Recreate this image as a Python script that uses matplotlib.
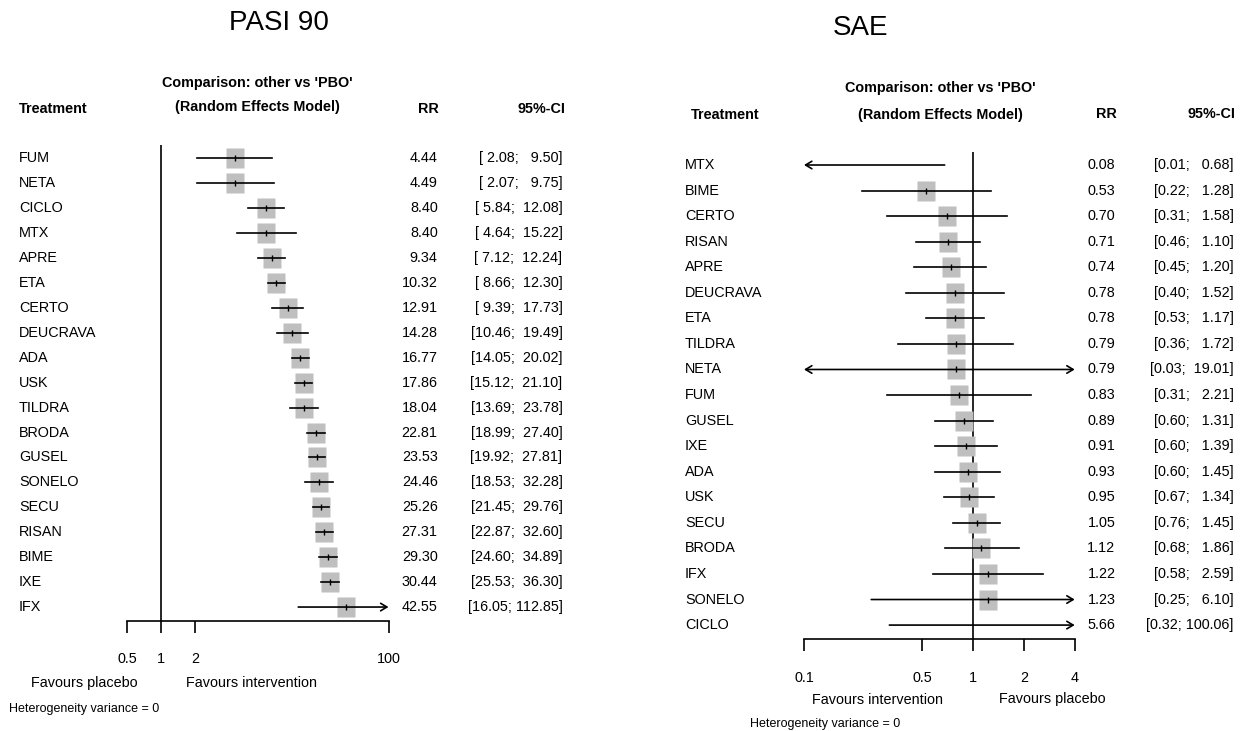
import matplotlib
matplotlib.use("Agg")
import matplotlib.pyplot as plt
import matplotlib.transforms as mtransforms
from matplotlib.ticker import NullLocator

plt.rcParams['font.family'] = ['Liberation Sans', 'DejaVu Sans']

W, H = 1245, 731

# PASI 90, RR vs placebo
pasi_trt = ['FUM', 'NETA', 'CICLO', 'MTX', 'APRE', 'ETA', 'CERTO', 'DEUCRAVA', 'ADA', 'USK',
            'TILDRA', 'BRODA', 'GUSEL', 'SONELO', 'SECU', 'RISAN', 'BIME', 'IXE', 'IFX']
pasi_rr = [4.44, 4.49, 8.40, 8.40, 9.34, 10.32, 12.91, 14.28, 16.77, 17.86,
           18.04, 22.81, 23.53, 24.46, 25.26, 27.31, 29.30, 30.44, 42.55]
pasi_lo = [2.08, 2.07, 5.84, 4.64, 7.12, 8.66, 9.39, 10.46, 14.05, 15.12,
           13.69, 18.99, 19.92, 18.53, 21.45, 22.87, 24.60, 25.53, 16.05]
pasi_hi = [9.50, 9.75, 12.08, 15.22, 12.24, 12.30, 17.73, 19.49, 20.02, 21.10,
           23.78, 27.40, 27.81, 32.28, 29.76, 32.60, 34.89, 36.30, 112.85]
pasi_ticks = [0.5, 1, 2, 100]

# SAE, RR vs placebo
sae_trt = ['MTX', 'BIME', 'CERTO', 'RISAN', 'APRE', 'DEUCRAVA', 'ETA', 'TILDRA', 'NETA', 'FUM',
           'GUSEL', 'IXE', 'ADA', 'USK', 'SECU', 'BRODA', 'IFX', 'SONELO', 'CICLO']
sae_rr = [0.08, 0.53, 0.70, 0.71, 0.74, 0.78, 0.78, 0.79, 0.79, 0.83,
          0.89, 0.91, 0.93, 0.95, 1.05, 1.12, 1.22, 1.23, 5.66]
sae_lo = [0.01, 0.22, 0.31, 0.46, 0.45, 0.40, 0.53, 0.36, 0.03, 0.31,
          0.60, 0.60, 0.60, 0.67, 0.76, 0.68, 0.58, 0.25, 0.32]
sae_hi = [0.68, 1.28, 1.58, 1.10, 1.20, 1.52, 1.17, 1.72, 19.01, 2.21,
          1.31, 1.39, 1.45, 1.34, 1.45, 1.86, 2.59, 6.10, 100.06]
sae_ticks = [0.1, 0.5, 1, 2, 4]

FS = 10.4
LW = 1.2
SQ = [(-0.45, -0.5), (0.45, -0.5), (0.45, 0.5), (-0.45, 0.5), (-0.45, -0.5)]


def fx(px):
    return px / W


def fy(py):
    return 1 - py / H


fig = plt.figure(figsize=(W / 100, H / 100), dpi=100)


def forest(lay, trt, rr, lo, hi, ticks, ci_fmt, title, fav_left, fav_right):
    xmin, xmax = ticks[0], ticks[-1]
    n = len(trt)
    ax = fig.add_axes([fx(lay['x0']), fy(lay['base']),
                       (lay['x1'] - lay['x0']) / W, (lay['base'] - lay['top']) / H])
    ax.set_xscale('log')
    ax.set_xlim(xmin, xmax)
    bottom = n - 1 + (lay['base'] - (lay['row0'] + (n - 1) * lay['step'])) / lay['step']
    top = -(lay['row0'] - lay['top']) / lay['step']
    ax.set_ylim(bottom, top)
    ax.patch.set_alpha(0)
    for s in ['top', 'right', 'left']:
        ax.spines[s].set_visible(False)
    ax.spines['bottom'].set_linewidth(LW)
    ax.set_yticks([])
    ax.set_xticks(ticks, labels=['%g' % t for t in ticks])
    ax.xaxis.set_minor_locator(NullLocator())
    ax.tick_params(axis='x', direction='out', length=8.5, width=LW, pad=14, labelsize=FS)
    ax.axvline(1, color='black', lw=LW)

    for i, (r, l, h) in enumerate(zip(rr, lo, hi)):
        lc, hc = max(l, xmin), min(h, xmax)
        if l < xmin or h > xmax:
            if l < xmin and h > xmax:
                style, tail, head = '<->', lc, hc
            elif h > xmax:
                style, tail, head = '->', lc, hc
            else:
                style, tail, head = '->', hc, lc
            ax.annotate('', xy=(head, i), xytext=(tail, i),
                        arrowprops=dict(arrowstyle=style + ',head_length=0.5,head_width=0.3',
                                        lw=LW, color='black', shrinkA=0, shrinkB=0,
                                        mutation_scale=9))
        else:
            ax.plot([l, h], [i, i], color='black', lw=LW, zorder=3)
        if xmin <= r <= xmax:
            ax.plot(r, i, marker=SQ, ms=13.7, color='#bfbfbf', mec='none', zorder=2)
            ax.plot(r, i, marker='|', ms=5, mew=1.0, color='black', zorder=4)

    # text columns tied to the rows
    tr = mtransforms.blended_transform_factory(fig.transFigure, ax.transData)
    for i, (name, r, l, h) in enumerate(zip(trt, rr, lo, hi)):
        ax.text(fx(lay['name_x']), i, name, transform=tr, ha='left', va='center', fontsize=FS)
        ax.text(fx(lay['rr_x']), i, '%.2f' % r, transform=tr, ha='right', va='center', fontsize=FS)
        ax.text(fx(lay['ci_x']), i, ci_fmt.format(l, h), transform=tr, ha='right', va='center',
                fontsize=FS)

    # headers
    fig.text(fx(lay['title'][0]), fy(lay['title'][1]), title, ha='center', va='center', fontsize=20)
    fig.text(fx(lay['comp_x']), fy(lay['comp_y'][0]), "Comparison: other vs 'PBO'",
             ha='center', va='center', fontsize=FS, fontweight='bold')
    fig.text(fx(lay['comp_x']), fy(lay['comp_y'][1]), '(Random Effects Model)',
             ha='center', va='center', fontsize=FS, fontweight='bold')
    fig.text(fx(lay['trt_hdr'][0]), fy(lay['trt_hdr'][1]), 'Treatment',
             ha='left', va='center', fontsize=FS, fontweight='bold')
    fig.text(fx(lay['rr_hdr'][0]), fy(lay['rr_hdr'][1]), 'RR',
             ha='center', va='center', fontsize=FS, fontweight='bold')
    fig.text(fx(lay['ci_hdr'][0]), fy(lay['ci_hdr'][1]), '95%-CI',
             ha='right', va='center', fontsize=FS, fontweight='bold')

    # footer
    fig.text(fx(lay['fav_l'][0]), fy(lay['fav_l'][1]), fav_left, ha='center', va='center', fontsize=FS)
    fig.text(fx(lay['fav_r'][0]), fy(lay['fav_r'][1]), fav_right, ha='center', va='center', fontsize=FS)
    fig.text(fx(lay['het'][0]), fy(lay['het'][1]), 'Heterogeneity variance = 0',
             ha='left', va='center', fontsize=9)
    return ax


pasi_lay = dict(x0=127.1, x1=388.5, row0=158.3, step=24.93, top=144.7, base=620.7,
                name_x=19, rr_x=437.7, ci_x=562.5,
                title=(278.8, 23), comp_x=257, comp_y=(82.7, 107.3),
                trt_hdr=(18.5, 109.3), rr_hdr=(428.5, 109), ci_hdr=(565.7, 109),
                fav_l=(84, 682.7), fav_r=(252, 682.7), het=(8.7, 709))

sae_lay = dict(x0=804, x1=1074.7, row0=165, step=25.56, top=152.3, base=639.3,
               name_x=685, rr_x=1115.5, ci_x=1233.5,
               title=(861, 28), comp_x=940, comp_y=(88.3, 115),
               trt_hdr=(691, 115), rr_hdr=(1106.7, 114.5), ci_hdr=(1235.7, 114.5),
               fav_l=(877, 700), fav_r=(1052, 698.5), het=(750, 724))

forest(pasi_lay, pasi_trt, pasi_rr, pasi_lo, pasi_hi, pasi_ticks,
       '[{:5.2f}; {:6.2f}]', 'PASI 90', 'Favours placebo', 'Favours intervention')
forest(sae_lay, sae_trt, sae_rr, sae_lo, sae_hi, sae_ticks,
       '[{:4.2f}; {:6.2f}]', 'SAE', 'Favours intervention', 'Favours placebo')

fig.savefig('out.png', dpi=100)
